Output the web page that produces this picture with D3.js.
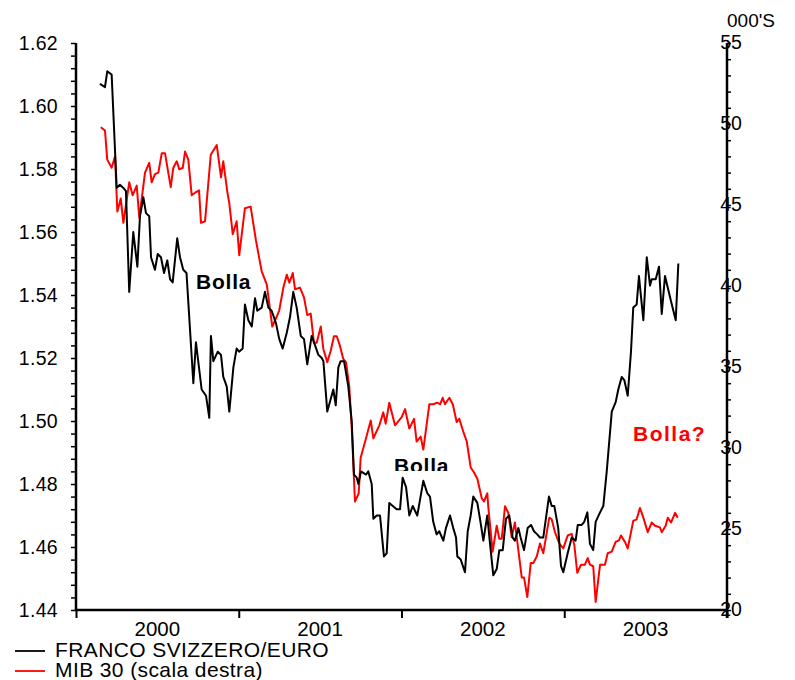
<!DOCTYPE html>
<html>
<head>
<meta charset="utf-8">
<script src="https://cdn.jsdelivr.net/npm/d3@7"></script>
<style>
  body { margin: 0; background: #fff; }
  svg text { font-family: "Liberation Sans", Arial, sans-serif; }
</style>
</head>
<body>
<svg id="chart"></svg>
<script>
//canvas size
const width = 795, height = 680;

//franco svizzero / euro (left scale), dates as decimal years
const chfDates = [2000.147,2000.178,2000.192,2000.219,2000.250,2000.270,2000.291,2000.307,2000.327,2000.352,
  2000.377,2000.393,2000.414,2000.430,2000.450,2000.461,2000.485,2000.502,2000.522,2000.541,
  2000.561,2000.578,2000.594,2000.622,2000.639,2000.659,2000.679,2000.721,2000.737,2000.772,
  2000.799,2000.819,2000.829,2000.844,2000.871,2000.891,2000.905,2000.926,2000.942,2000.967,
  2000.987,2001.002,2001.024,2001.038,2001.059,2001.080,2001.100,2001.114,2001.141,2001.161,
  2001.182,2001.202,2001.229,2001.249,2001.270,2001.295,2001.315,2001.335,2001.356,2001.381,
  2001.401,2001.421,2001.448,2001.469,2001.489,2001.510,2001.520,2001.544,2001.581,2001.596,
  2001.612,2001.626,2001.647,2001.673,2001.694,2001.708,2001.725,2001.735,2001.751,2001.782,
  2001.796,2001.817,2001.827,2001.848,2001.868,2001.892,2001.909,2001.925,2001.970,2001.991,
  2002.007,2002.028,2002.048,2002.069,2002.097,2002.134,2002.159,2002.175,2002.195,2002.216,
  2002.232,2002.257,2002.273,2002.298,2002.318,2002.335,2002.343,2002.364,2002.390,2002.407,
  2002.425,2002.441,2002.466,2002.482,2002.503,2002.527,2002.544,2002.564,2002.585,2002.601,
  2002.622,2002.642,2002.662,2002.683,2002.697,2002.718,2002.732,2002.753,2002.775,2002.796,
  2002.814,2002.834,2002.851,2002.871,2002.906,2002.923,2002.939,2002.963,2002.980,2002.994,
  2003.021,2003.046,2003.070,2003.083,2003.107,2003.123,2003.142,2003.158,2003.178,2003.193,
  2003.220,2003.240,2003.261,2003.292,2003.316,2003.332,2003.353,2003.369,2003.390,2003.410,
  2003.424,2003.445,2003.459,2003.486,2003.507,2003.527,2003.537,2003.562,2003.582,2003.599,
  2003.619,2003.656,2003.685,2003.701];
const chfValues = [1.607,1.606,1.611,1.610,1.574,1.575,1.574,1.573,1.541,1.560,
  1.549,1.565,1.571,1.566,1.565,1.552,1.548,1.553,1.552,1.547,
  1.551,1.545,1.544,1.558,1.552,1.548,1.547,1.512,1.525,1.510,
  1.508,1.501,1.527,1.519,1.522,1.521,1.514,1.511,1.503,1.517,
  1.523,1.522,1.523,1.537,1.532,1.530,1.539,1.535,1.536,1.541,
  1.536,1.535,1.531,1.526,1.523,1.528,1.533,1.541,1.536,1.527,
  1.526,1.518,1.527,1.524,1.521,1.520,1.519,1.503,1.510,1.505,
  1.517,1.519,1.519,1.511,1.500,1.483,1.482,1.480,1.484,1.483,
  1.484,1.480,1.469,1.470,1.470,1.457,1.458,1.474,1.472,1.472,
  1.482,1.479,1.470,1.473,1.470,1.481,1.477,1.476,1.468,1.464,
  1.465,1.462,1.466,1.470,1.466,1.463,1.457,1.456,1.452,1.465,
  1.470,1.476,1.474,1.469,1.462,1.470,1.461,1.451,1.453,1.459,
  1.459,1.469,1.470,1.463,1.462,1.466,1.463,1.459,1.466,1.467,
  1.465,1.464,1.463,1.463,1.476,1.473,1.473,1.466,1.454,1.452,
  1.458,1.463,1.462,1.467,1.467,1.468,1.471,1.461,1.459,1.468,
  1.471,1.473,1.484,1.503,1.506,1.510,1.514,1.513,1.508,1.522,
  1.536,1.537,1.546,1.532,1.552,1.543,1.545,1.545,1.549,1.534,
  1.546,1.538,1.532,1.550];

//mib 30 (right scale, thousands)
const mibDates = [2000.152,2000.178,2000.192,2000.219,2000.240,2000.254,2000.275,2000.291,2000.327,2000.348,
  2000.373,2000.389,2000.424,2000.450,2000.465,2000.485,2000.506,2000.527,2000.547,2000.567,
  2000.582,2000.598,2000.619,2000.635,2000.656,2000.670,2000.690,2000.711,2000.737,2000.756,
  2000.768,2000.793,2000.828,2000.865,2000.891,2000.905,2000.930,2000.942,2000.963,2000.987,
  2001.003,2001.038,2001.073,2001.106,2001.141,2001.172,2001.206,2001.233,2001.249,2001.274,
  2001.295,2001.311,2001.332,2001.346,2001.376,2001.401,2001.421,2001.442,2001.462,2001.479,
  2001.504,2001.520,2001.544,2001.565,2001.585,2001.602,2001.622,2001.642,2001.659,2001.679,
  2001.694,2001.714,2001.737,2001.749,2001.782,2001.811,2001.827,2001.864,2001.888,2001.903,
  2001.925,2001.960,2002.001,2002.022,2002.048,2002.077,2002.093,2002.118,2002.134,2002.171,
  2002.195,2002.220,2002.237,2002.253,2002.267,2002.294,2002.315,2002.339,2002.355,2002.380,
  2002.401,2002.425,2002.445,2002.466,2002.493,2002.507,2002.527,2002.533,2002.560,2002.585,
  2002.601,2002.616,2002.636,2002.656,2002.677,2002.697,2002.718,2002.739,2002.753,2002.773,
  2002.794,2002.810,2002.831,2002.851,2002.871,2002.908,2002.923,2002.943,2002.970,2002.994,
  2003.021,2003.046,2003.062,2003.080,2003.103,2003.127,2003.144,2003.158,2003.178,2003.193,
  2003.220,2003.250,2003.267,2003.292,2003.316,2003.336,2003.349,2003.373,2003.390,2003.424,
  2003.445,2003.465,2003.486,2003.513,2003.537,2003.558,2003.588,2003.599,2003.623,2003.636,
  2003.656,2003.681,2003.697];
const mibValues = [49.8,49.6,47.8,47.3,48.0,44.6,45.4,43.9,46.4,45.6,
  46.2,44.2,47.0,47.6,46.4,46.9,47.0,48.2,48.2,47.0,
  46.1,47.3,47.7,47.2,47.3,48.3,47.8,45.6,45.8,45.9,
  43.9,44.0,48.1,48.7,46.7,47.7,45.8,45.1,43.2,44.0,
  41.9,44.8,44.9,42.8,40.9,40.1,37.5,38.1,38.5,39.9,
  40.7,40.2,40.8,39.8,39.9,39.3,38.2,38.3,36.5,36.5,
  37.5,36.1,35.3,36.0,36.9,36.9,36.3,35.5,35.3,33.8,
  31.3,26.7,27.2,29.4,30.6,31.7,30.6,31.4,32.2,31.5,
  32.8,31.4,31.9,32.4,31.2,31.8,30.4,30.7,29.9,32.7,
  32.7,32.8,32.7,33.1,32.7,33.1,32.7,31.6,31.8,31.0,
  30.4,28.8,28.5,28.1,26.9,26.7,27.2,26.4,23.6,25.2,
  24.4,24.4,26.4,26.0,24.5,25.4,23.7,22.0,22.0,20.8,
  22.9,22.9,23.3,24.1,23.5,25.7,25.6,24.8,24.1,23.8,
  24.6,24.7,24.0,22.3,22.8,22.8,23.2,22.8,22.7,20.5,
  22.8,22.8,23.5,23.6,24.2,24.3,24.6,24.2,23.8,25.5,
  25.6,26.3,25.7,24.8,25.4,25.2,25.1,24.8,25.2,25.7,
  25.4,26.0,25.7];

//axis settings
const years = [2000, 2001, 2002, 2003];
const leftTicks = [1.44, 1.46, 1.48, 1.50, 1.52, 1.54, 1.56, 1.58, 1.60, 1.62];
const rightTicks = [20, 25, 30, 35, 40, 45, 50, 55];
const legendLabels = ["FRANCO SVIZZERO/EURO", "MIB 30 (scala destra)"];
const colors = ["#000000", "#ff0000"];

const plot = { left: 76, right: 727, top: 43, bottom: 610 };

const svg = d3.select("#chart")
    .attr("width", width)
    .attr("height", height);

//scales
const x = d3.scaleLinear().domain([2000, 2004]).range([plot.left, plot.right]);
const yL = d3.scaleLinear().domain([1.44, 1.62]).range([plot.bottom, plot.top]);
const yR = d3.scaleLinear().domain([20, 55]).range([plot.bottom, plot.top]);

//lines
const chf = chfDates.map((d, i) => [d, chfValues[i]]);
const mib = mibDates.map((d, i) => [d, mibValues[i]]);

svg.append("path")
    .datum(mib)
    .attr("fill", "none")
    .attr("stroke", colors[1])
    .attr("stroke-width", 2)
    .attr("stroke-linejoin", "round")
    .attr("d", d3.line().x(d => x(d[0])).y(d => yR(d[1])));

svg.append("path")
    .datum(chf)
    .attr("fill", "none")
    .attr("stroke", colors[0])
    .attr("stroke-width", 2)
    .attr("stroke-linejoin", "round")
    .attr("d", d3.line().x(d => x(d[0])).y(d => yL(d[1])));

//left axis
const leftAxis = svg.append("g")
    .attr("transform", `translate(${plot.left},0)`)
    .call(d3.axisLeft(yL).tickValues(d3.range(1.44, 1.6201, 0.004)).tickSize(5).tickFormat(""));
leftAxis.select(".domain").attr("stroke-width", 2.5).attr("d", `M0,${plot.bottom}V${plot.top}`);
leftAxis.selectAll(".tick line").attr("stroke-width", 1.5);

svg.append("g").selectAll("text")
    .data(leftTicks)
    .join("text")
    .attr("x", 58)
    .attr("y", d => yL(d) + 7)
    .attr("text-anchor", "end")
    .attr("font-size", 19.5)
    .attr("letter-spacing", 0.3)
    .text(d => d.toFixed(2));

//right axis
const rightAxis = svg.append("g")
    .attr("transform", `translate(${plot.right},0)`)
    .call(d3.axisRight(yR).ticks(35).tickSize(4).tickFormat(""));
rightAxis.select(".domain").attr("stroke-width", 2.5).attr("d", `M0,${plot.bottom + 8}V${plot.top}`);
rightAxis.selectAll(".tick line").attr("stroke-width", 1.5);

svg.append("g").selectAll("text")
    .data(rightTicks)
    .join("text")
    .attr("x", plot.right + 4)
    .attr("y", d => yR(d) + 6)
    .attr("text-anchor", "middle")
    .attr("font-size", 19.5)
    .text(d => d);

svg.append("text")
    .attr("x", 727)
    .attr("y", 27)
    .attr("font-size", 19)
    .text("000'S");

//bottom axis
const bottomAxis = svg.append("g")
    .attr("transform", `translate(0,${plot.bottom})`)
    .call(d3.axisBottom(x).tickValues([2000, 2001, 2002, 2003, 2004]).tickSize(8).tickFormat(""));
bottomAxis.select(".domain").attr("stroke-width", 2.5).attr("d", `M${plot.left},0H${plot.right}`);
bottomAxis.selectAll(".tick line").attr("stroke-width", 2);

svg.append("g").selectAll("text")
    .data(years)
    .join("text")
    .attr("x", d => x(d + 0.5))
    .attr("y", 636)
    .attr("text-anchor", "middle")
    .attr("font-size", 20.5)
    .text(d => d);

//annotations
svg.append("text")
    .attr("x", 196)
    .attr("y", 289)
    .attr("font-size", 21)
    .attr("font-weight", "bold")
    .attr("letter-spacing", 0.8)
    .text("Bolla");

svg.append("clipPath").attr("id", "cut")
    .append("rect").attr("x", 380).attr("y", 440).attr("width", 100).attr("height", 31);

svg.append("text")
    .attr("x", 394)
    .attr("y", 473)
    .attr("font-size", 21)
    .attr("font-weight", "bold")
    .attr("letter-spacing", 0.8)
    .attr("clip-path", "url(#cut)")
    .text("Bolla");

svg.append("text")
    .attr("x", 633)
    .attr("y", 441)
    .attr("font-size", 21)
    .attr("font-weight", "bold")
    .attr("letter-spacing", 1.5)
    .attr("fill", colors[1])
    .text("Bolla?");

//legend
const legend = svg.append("g").selectAll("g")
    .data(legendLabels)
    .join("g")
    .attr("transform", (d, i) => `translate(15,${651 + i * 20})`);

legend.append("line")
    .attr("x1", 0).attr("x2", 30)
    .attr("stroke", (d, i) => colors[i])
    .attr("stroke-width", 1.8);

legend.append("text")
    .attr("x", 40)
    .attr("y", 6)
    .attr("font-size", 21)
    .attr("letter-spacing", 0.4)
    .text(d => d);
</script>
</body>
</html>
